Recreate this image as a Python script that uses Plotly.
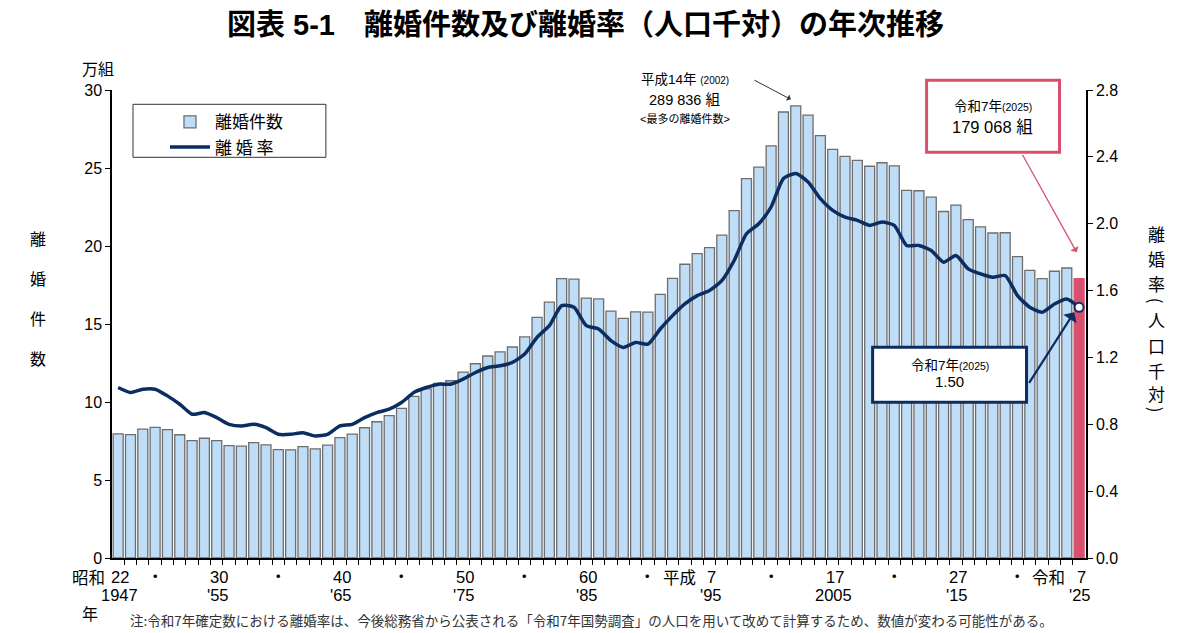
import plotly.graph_objects as go

# 年次（昭和22年=1947 〜 令和7年=2025）
years = list(range(1947, 2026))

# 離婚件数（組）
divorces = [
    79551, 79032, 82575, 83689, 82331, 79021, 75255, 76759, 75267, 72040,
    71651, 74004, 72455, 69410, 69323, 71394, 69996, 72306, 77195, 79432,
    83478, 87327, 91280, 95937, 103595, 108382, 111877, 113622, 119135, 124512,
    129485, 132146, 135250, 141689, 154221, 163980, 179150, 178746, 166640, 166054,
    158227, 153600, 157811, 157608, 168969, 179191, 188297, 195106, 199016, 206955,
    222635, 243183, 250529, 264246, 285911, 289836, 283854, 270804, 261917, 257475,
    254832, 251136, 253353, 251378, 235719, 235406, 231383, 222107, 226238, 216856,
    212296, 208333, 208496, 193253, 184384, 179099, 183814, 185895, 179068,
]

# 離婚率（人口千対）
rates = [
    1.02, 0.99, 1.01, 1.01, 0.97, 0.92, 0.86, 0.87, 0.84, 0.80,
    0.79, 0.80, 0.78, 0.74, 0.74, 0.75, 0.73, 0.74, 0.79, 0.80,
    0.84, 0.87, 0.89, 0.93, 0.99, 1.02, 1.04, 1.04, 1.07, 1.11,
    1.14, 1.15, 1.17, 1.22, 1.32, 1.39, 1.51, 1.50, 1.39, 1.37,
    1.30, 1.26, 1.29, 1.28, 1.37, 1.45, 1.52, 1.57, 1.60, 1.66,
    1.78, 1.94, 2.00, 2.10, 2.27, 2.30, 2.25, 2.15, 2.08, 2.04,
    2.02, 1.99, 2.01, 1.99, 1.87, 1.87, 1.84, 1.77, 1.81, 1.73,
    1.70, 1.68, 1.69, 1.57, 1.50, 1.47, 1.52, 1.55, 1.50,
]

# x軸ラベル
xlab_years = [1947, 1950, 1955, 1960, 1965, 1970, 1975, 1980, 1985, 1990,
              1995, 2000, 2005, 2010, 2015, 2020, 2025]
xlab_era = ["昭和", "", "", "", "", "", "", "", "", "",
            "平成", "", "", "", "", "", "令和"]
xlab_top = ["22", "・", "30", "・", "40", "・", "50", "・", "60", "・",
            "7", "・", "17", "・", "27", "・", "7"]
xlab_bottom = ["1947", "", "'55", "", "'65", "", "'75", "", "'85", "",
               "'95", "", "2005", "", "'15", "", "'25"]

left_ticks = [0, 5, 10, 15, 20, 25, 30]
right_ticks = [0.0, 0.4, 0.8, 1.2, 1.6, 2.0, 2.4, 2.8]

BLUE = "#BFDDF7"
RED = "#D9506F"
NAVY = "#0C2D62"
FONT = "Liberation Sans, Noto Sans CJK JP, sans-serif"
CJK = "Noto Sans CJK JP"

# 画面座標（ページ左上基準）-> paper座標。ページ本体の余白8pxぶん図を小さくする
OFF = 8
W, H = 1200 - OFF, 633 - OFF
L, R, T, B = 112, 1086.5, 89.7, 557.7
def px(x):
    return (x - L) / (R - L)
def py(y):
    return (B - y) / (B - T)

ann = []
def txt(text, x, y, size, **kw):
    d = dict(text=text, x=px(x), y=py(y), xref="paper", yref="paper",
             xanchor="center", yanchor="middle", showarrow=False,
             font=dict(size=size, color="black"))
    d.update(kw)
    ann.append(d)

counts_man = [d / 10000 for d in divorces]
bar_colors = [BLUE] * (len(years) - 1) + [RED]
bar_lines = ["#6E6E6E"] * (len(years) - 1) + [RED]

fig = go.Figure()
fig.add_trace(go.Bar(
    x=years, y=counts_man, name="離婚件数",
    marker=dict(color=bar_colors, line=dict(color=bar_lines, width=1.3)),
))
fig.add_trace(go.Scatter(
    x=years, y=rates, name="離 婚 率", yaxis="y2", mode="lines",
    line=dict(color=NAVY, width=3.5, shape="spline", smoothing=0.6),
))
fig.add_trace(go.Scatter(
    x=[years[-1]], y=[rates[-1]], yaxis="y2", mode="markers", showlegend=False,
    marker=dict(color="white", size=9, line=dict(color=NAVY, width=2)),
))

# タイトル
txt("<b>図表 5-1　離婚件数及び離婚率（人口千対）の年次推移</b>", 586, 25, 29)
# 軸見出し
txt("万組", 98, 69, 16)
txt("年", 90, 614, 16)
for yy, ch in zip([238, 278, 318, 358], "離婚件数"):
    txt(ch, 38, yy, 16, font=dict(size=16, family=CJK))
for yy, ch in zip([233, 258, 283, 301, 319, 345, 370, 393, 410], "離婚率(人口千対)"):
    if ch in "()":
        txt(ch, 1157, yy, 17, textangle=90, font=dict(size=17, family=CJK))
    else:
        txt(ch, 1157, yy, 17, font=dict(size=17, family=CJK))

# x軸ラベル
for yr, era, top, bot in zip(xlab_years, xlab_era, xlab_top, xlab_bottom):
    ann.append(dict(text=top, x=yr, y=py(577), xref="x", yref="paper",
                    xanchor="center", yanchor="middle", xshift=2 if top != "・" else 0,
                    showarrow=False, font=dict(size=16.5)))
    if era:
        ann.append(dict(text=era, x=yr, y=py(577), xref="x", yref="paper",
                        xanchor="right", yanchor="middle",
                        xshift=-12 if len(top) == 1 else -11,
                        showarrow=False, font=dict(size=16.5, family=CJK)))
    if bot:
        ann.append(dict(text=bot, x=yr, y=py(595), xref="x", yref="paper",
                        xanchor="center", yanchor="middle", xshift=1,
                        showarrow=False, font=dict(size=16.5)))

# 最多件数の注記
txt("平成14年 <span style='font-size:10px'>(2002)</span>", 685, 79, 13.5)
txt("289 836 組", 685, 100, 14.5)
txt("&lt;最多の離婚件数&gt;", 685, 118, 11)
ann.append(dict(text="", x=2001.6, y=29.4, xref="x", yref="y", showarrow=True,
                ax=-38, ay=-20, arrowhead=1, arrowsize=1.2, arrowwidth=1,
                arrowcolor="#333333"))

# 令和7年 件数（ピンク枠）
txt("令和7年<span style='font-size:10.5px'>(2025)</span>", 993, 106, 13.5)
txt("179 068 組", 993, 127, 16.5)
ann.append(dict(text="", x=2024.8, y=19.6, xref="x", yref="y", showarrow=True,
                ax=-55, ay=-99, arrowhead=1, arrowsize=1.2, arrowwidth=1.3,
                arrowcolor=RED))

# 令和7年 離婚率（紺枠）
txt("令和7年<span style='font-size:10.5px'>(2025)</span>", 950, 365, 13.5)
txt("1.50", 950, 381, 15)
ann.append(dict(text="", x=2024.6, y=1.47, xref="x", yref="y2", showarrow=True,
                ax=-46, ay=72, arrowhead=1, arrowsize=1.2, arrowwidth=2.2,
                arrowcolor=NAVY))

# 注
txt("注:令和7年確定数における離婚率は、今後総務省から公表される「令和7年国勢調査」の人口を用いて改めて計算するため、数値が変わる可能性がある。",
    128, 620, 13.5, xanchor="left", font=dict(size=13.5, color="#333333", family=CJK))

shapes = [
    # 凡例枠
    dict(type="rect", xref="paper", yref="paper", x0=px(133), x1=px(326),
         y0=py(157), y1=py(104), line=dict(color="#333333", width=1),
         fillcolor="white", layer="above"),
    dict(type="rect", xref="paper", yref="paper", x0=px(927), x1=px(1060),
         y0=py(152), y1=py(80), line=dict(color=RED, width=3),
         fillcolor="white", layer="above"),
    dict(type="rect", xref="paper", yref="paper", x0=px(873), x1=px(1027),
         y0=py(402), y1=py(347), line=dict(color=NAVY, width=3),
         fillcolor="white", layer="above"),
]

fig.update_layout(
    width=W, height=H,
    margin=dict(l=L - OFF, r=W - (R - OFF), t=T - OFF, b=H - (B - OFF)),
    paper_bgcolor="white", plot_bgcolor="white",
    font=dict(family=FONT, size=15, color="black"),
    bargap=0.19,
    showlegend=True,
    legend=dict(x=px(165), y=py(104), xanchor="left", yanchor="top",
                bgcolor="rgba(0,0,0,0)", borderwidth=0,
                font=dict(size=17, family=CJK), tracegroupgap=0, itemwidth=40),
    xaxis=dict(range=[1946.5, 2025.56], showgrid=False, zeroline=False,
               showline=True, linecolor="black", linewidth=1.5,
               tickvals=[y + 0.5 for y in years[:-1]], showticklabels=False,
               ticks="outside", ticklen=5, tickcolor="black"),
    yaxis=dict(range=[0, 30], tickvals=left_ticks, showgrid=False, zeroline=False,
               showline=True, linecolor="black", linewidth=1.5,
               ticks="outside", ticklen=5, tickcolor="black",
               tickfont=dict(size=16)),
    yaxis2=dict(range=[0, 2.8], tickvals=right_ticks, tickformat=".1f",
                overlaying="y", side="right", showgrid=False, zeroline=False,
                showline=True, linecolor="black", linewidth=1.5,
                ticks="outside", ticklen=5, tickcolor="black",
                tickfont=dict(size=16)),
    annotations=ann,
    shapes=shapes,
)

fig.write_html("out.html")
